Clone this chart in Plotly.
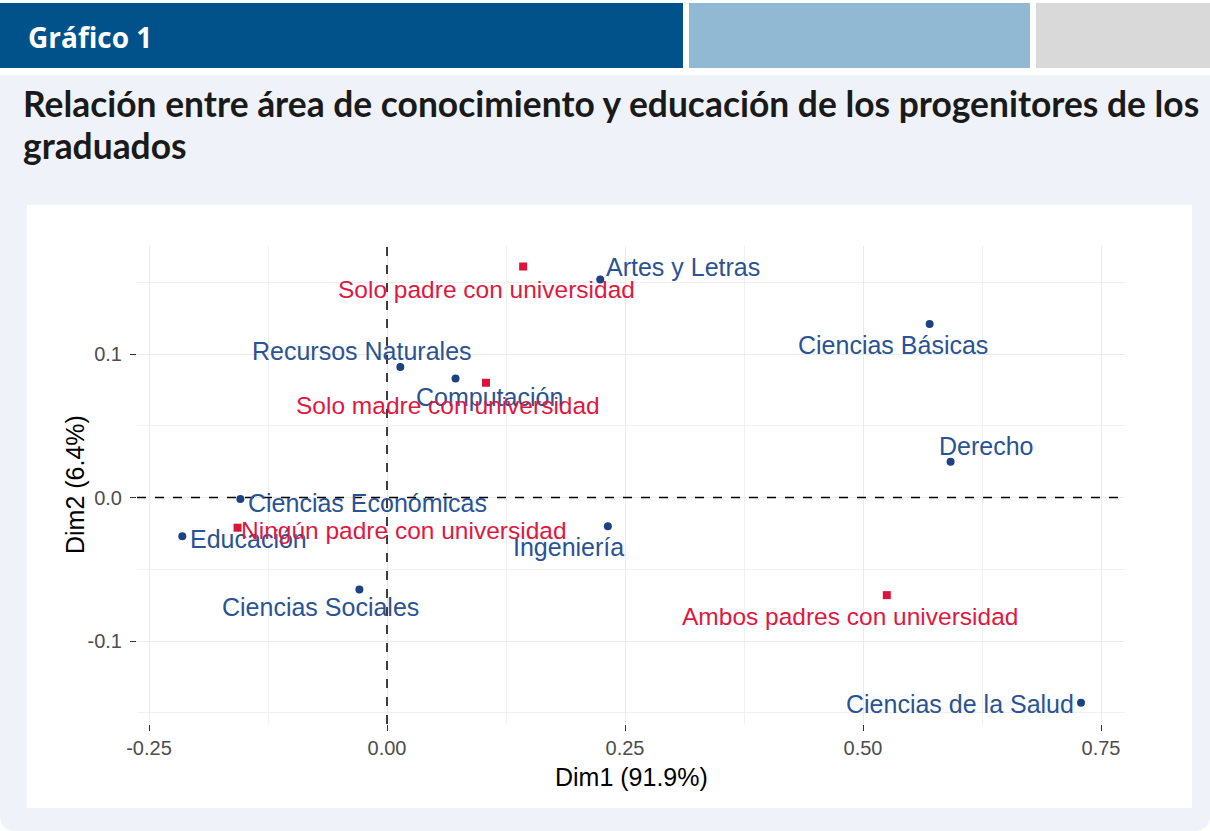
import plotly.graph_objects as go

# ---------------- data ----------------
areas = ["Artes y Letras", "Ciencias Básicas", "Recursos Naturales", "Computación",
         "Derecho", "Ciencias Económicas", "Educación", "Ingeniería",
         "Ciencias Sociales", "Ciencias de la Salud"]
areas_dim1 = [0.224, 0.570, 0.014, 0.072, 0.592, -0.154, -0.215, 0.232, -0.029, 0.729]
areas_dim2 = [0.152, 0.121, 0.091, 0.083, 0.025, -0.001, -0.027, -0.020, -0.064, -0.143]

educ = ["Solo padre con universidad", "Solo madre con universidad",
        "Ningún padre con universidad", "Ambos padres con universidad"]
educ_dim1 = [0.143, 0.104, -0.157, 0.525]
educ_dim2 = [0.161, 0.080, -0.021, -0.068]

x_tickvals = [-0.25, 0.0, 0.25, 0.50, 0.75]
x_ticktext = ["-0.25", "0.00", "0.25", "0.50", "0.75"]
y_tickvals = [-0.1, 0.0, 0.1]
y_ticktext = ["-0.1", "0.0", "0.1"]

# label offsets (pixels, dx right, dy up) -- ggrepel-like placement
areas_off = [(83, 12), (-37, -21), (-38, 16), (34, -19), (36, 16),
             (127, -4), (66, -3), (-39, -21), (-39, -18), (-121, -1)]
educ_off = [(-37, -23), (-38, -23), (166, -3), (-37, -21)]

# ---------------- layout geometry ----------------
W, H = 1210, 831
L, R, T, B = 137, 1125, 246, 724
PW, PH = R - L, B - T


def px(x):
    return (x - L) / PW


def py(y):
    return (B - y) / PH


BLUE = "#1d4282"
RED = "#dc143c"

fig = go.Figure()
fig.add_trace(go.Scatter(x=areas_dim1, y=areas_dim2, mode="markers",
                         marker=dict(color=BLUE, size=8, symbol="circle"),
                         hoverinfo="text", text=areas, showlegend=False))
fig.add_trace(go.Scatter(x=educ_dim1, y=educ_dim2, mode="markers",
                         marker=dict(color=RED, size=8, symbol="square"),
                         hoverinfo="text", text=educ, showlegend=False))

shapes = []
# header bands
shapes.append(dict(type="rect", xref="paper", yref="paper", x0=px(0), x1=px(683), y0=py(3), y1=py(68),
                   fillcolor="#01528a", line=dict(width=0), layer="below"))
shapes.append(dict(type="rect", xref="paper", yref="paper", x0=px(689), x1=px(1030), y0=py(3), y1=py(68),
                   fillcolor="#92b9d4", line=dict(width=0), layer="below"))
shapes.append(dict(type="rect", xref="paper", yref="paper", x0=px(1036), x1=px(1210), y0=py(3), y1=py(68),
                   fillcolor="#d9d9d9", line=dict(width=0), layer="below"))
# panel background with rounded bottom corners
rr = 16
path = (f"M {px(0)},{py(75)} L {px(1210)},{py(75)} L {px(1210)},{py(831 - rr)} "
        f"Q {px(1210)},{py(831)} {px(1210 - rr)},{py(831)} L {px(rr)},{py(831)} "
        f"Q {px(0)},{py(831)} {px(0)},{py(831 - rr)} Z")
shapes.append(dict(type="path", xref="paper", yref="paper", path=path,
                   fillcolor="#eff3f9", line=dict(width=0), layer="below"))
# white chart box
shapes.append(dict(type="rect", xref="paper", yref="paper", x0=px(27), x1=px(1192), y0=py(205), y1=py(808),
                   fillcolor="#ffffff", line=dict(width=0), layer="below"))
# dashed reference lines
shapes.append(dict(type="line", xref="x", yref="paper", x0=0, x1=0, y0=0, y1=1,
                   line=dict(color="#000000", width=1.5, dash="dash")))
shapes.append(dict(type="line", xref="paper", yref="y", x0=0, x1=1, y0=0, y1=0,
                   line=dict(color="#000000", width=1.5, dash="dash")))

annotations = []
# header text
annotations.append(dict(xref="paper", yref="paper", x=px(26), y=py(37), xanchor="left", yanchor="middle",
                        text="<b>Gráfico 1</b>", showarrow=False,
                        font=dict(family="Open Sans, Lato, sans-serif", size=28, color="#ffffff")))
# title
annotations.append(dict(xref="paper", yref="paper", x=px(21), y=py(103), xanchor="left", yanchor="middle",
                        text="<b>Relación entre área de conocimiento y educación de los progenitores de los</b>",
                        showarrow=False,
                        font=dict(family="Lato, Open Sans, sans-serif", size=35.4, color="#1a1a1a")))
annotations.append(dict(xref="paper", yref="paper", x=px(21), y=py(145), xanchor="left", yanchor="middle",
                        text="<b>graduados</b>", showarrow=False,
                        font=dict(family="Lato, Open Sans, sans-serif", size=35.4, color="#1a1a1a")))
# axis titles
annotations.append(dict(xref="paper", yref="paper", x=0.5, y=py(777), xanchor="center", yanchor="middle",
                        text="Dim1 (91.9%)", showarrow=False,
                        font=dict(size=25, color="#000000")))
annotations.append(dict(xref="paper", yref="paper", x=px(75), y=0.5, xanchor="center", yanchor="middle",
                        text="Dim2 (6.4%)", showarrow=False, textangle=-90,
                        font=dict(size=25, color="#000000")))
# point labels
for name, xv, yv, (dx, dy) in zip(areas, areas_dim1, areas_dim2, areas_off):
    annotations.append(dict(x=xv, y=yv, xref="x", yref="y", text=name, showarrow=False,
                            xanchor="center", yanchor="middle", xshift=dx, yshift=dy,
                            font=dict(size=25, color="#2a5394")))
for name, xv, yv, (dx, dy) in zip(educ, educ_dim1, educ_dim2, educ_off):
    annotations.append(dict(x=xv, y=yv, xref="x", yref="y", text=name, showarrow=False,
                            xanchor="center", yanchor="middle", xshift=dx, yshift=dy,
                            font=dict(size=24.5, color="#e0183f")))

x0_val = -0.2626
x1_val = 0.7752
y0_val = -0.1578
y1_val = 0.1753

fig.update_layout(
    width=W, height=H,
    margin=dict(l=L, r=W - R, t=T, b=H - B, pad=0),
    paper_bgcolor="#ffffff", plot_bgcolor="#ffffff",
    font=dict(family="Liberation Sans, Arial, sans-serif"),
    shapes=shapes, annotations=annotations,
    xaxis=dict(range=[x0_val, x1_val], tickvals=x_tickvals, ticktext=x_ticktext,
               showgrid=True, gridcolor="#ebebeb", gridwidth=1.2, zeroline=False,
               ticks="outside", ticklen=6, tickwidth=1.2, tickcolor="#333333",
               tickfont=dict(size=20, color="#4d4d4d"), showline=False,
               minor=dict(tickvals=[-0.125, 0.125, 0.375, 0.625], showgrid=True,
                          gridcolor="#f0f0f0", gridwidth=0.8, ticks=""),
               fixedrange=True),
    yaxis=dict(range=[y0_val, y1_val], tickvals=y_tickvals, ticktext=y_ticktext,
               showgrid=True, gridcolor="#ebebeb", gridwidth=1.2, zeroline=False,
               ticks="outside", ticklen=6, tickwidth=1.2, tickcolor="#333333",
               tickfont=dict(size=20, color="#4d4d4d"), showline=False,
               ticklabelstandoff=4,
               minor=dict(tickvals=[-0.15, -0.05, 0.05, 0.15], showgrid=True,
                          gridcolor="#f0f0f0", gridwidth=0.8, ticks=""),
               fixedrange=True),
)

fig.write_html("out.html", config={"displayModeBar": False},
               post_script="document.body.style.margin='0px';document.body.style.overflow='hidden';")
